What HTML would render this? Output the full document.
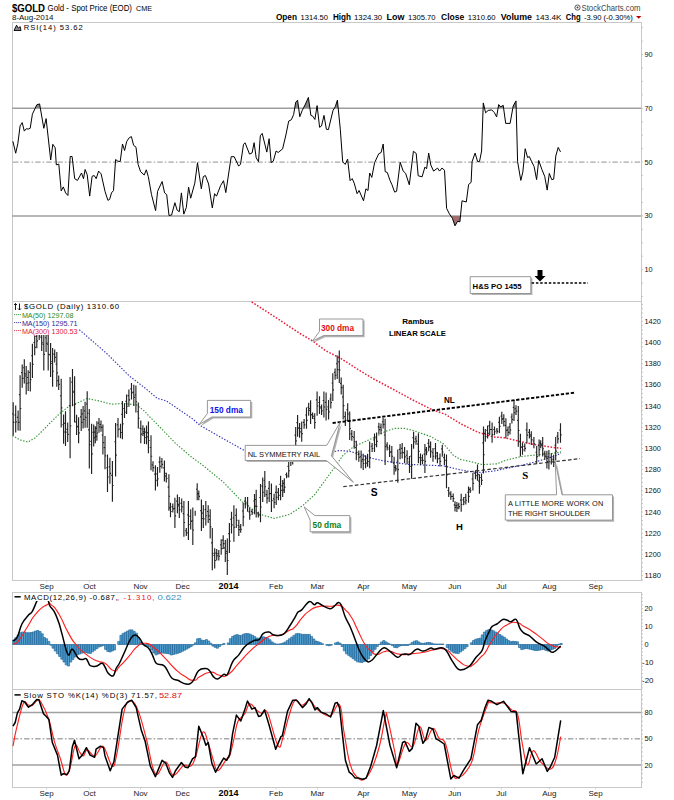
<!DOCTYPE html>
<html><head><meta charset="utf-8"><style>
html,body{margin:0;padding:0;background:#fff;}
svg{display:block;font-family:"Liberation Sans",sans-serif;}
</style></head><body>
<svg width="674" height="800" viewBox="0 0 674 800">
<rect width="674" height="800" fill="#fff"/>
<rect x="12.5" y="22.5" width="629" height="279" fill="none" stroke="#c8c8c8" stroke-width="1"/>
<rect x="12.5" y="301.5" width="629" height="279" fill="none" stroke="#c8c8c8" stroke-width="1"/>
<rect x="12.5" y="592.5" width="629" height="97" fill="none" stroke="#c8c8c8" stroke-width="1"/>
<rect x="12.5" y="689.5" width="629" height="98" fill="none" stroke="#c8c8c8" stroke-width="1"/>
<line x1="12" x2="641" y1="108.3" y2="108.3" stroke="#a0a0a0" stroke-width="1.5"/>
<line x1="12" x2="641" y1="215.9" y2="215.9" stroke="#a0a0a0" stroke-width="1.5"/>
<line x1="13" x2="641" y1="162.1" y2="162.1" stroke="#a8a8a8" stroke-width="1.4" stroke-dasharray="5.4,2.1,1.5,2.1"/>
<text x="644.5" y="57.0" font-size="7.6" textLength="8.2" lengthAdjust="spacingAndGlyphs" fill="#111">90</text>
<text x="644.5" y="110.8" font-size="7.6" textLength="8.2" lengthAdjust="spacingAndGlyphs" fill="#111">70</text>
<text x="644.5" y="164.6" font-size="7.6" textLength="8.2" lengthAdjust="spacingAndGlyphs" fill="#111">50</text>
<text x="644.5" y="218.4" font-size="7.6" textLength="8.2" lengthAdjust="spacingAndGlyphs" fill="#111">30</text>
<text x="644.5" y="272.2" font-size="7.6" textLength="8.2" lengthAdjust="spacingAndGlyphs" fill="#111">10</text>
<text x="644.5" y="578.1" font-size="7.6" textLength="16.4" lengthAdjust="spacingAndGlyphs" fill="#111">1180</text>
<text x="644.5" y="556.9" font-size="7.6" textLength="16.4" lengthAdjust="spacingAndGlyphs" fill="#111">1200</text>
<text x="644.5" y="535.7" font-size="7.6" textLength="16.4" lengthAdjust="spacingAndGlyphs" fill="#111">1220</text>
<text x="644.5" y="514.5" font-size="7.6" textLength="16.4" lengthAdjust="spacingAndGlyphs" fill="#111">1240</text>
<text x="644.5" y="493.3" font-size="7.6" textLength="16.4" lengthAdjust="spacingAndGlyphs" fill="#111">1260</text>
<text x="644.5" y="472.2" font-size="7.6" textLength="16.4" lengthAdjust="spacingAndGlyphs" fill="#111">1280</text>
<text x="644.5" y="451.0" font-size="7.6" textLength="16.4" lengthAdjust="spacingAndGlyphs" fill="#111">1300</text>
<text x="644.5" y="429.8" font-size="7.6" textLength="16.4" lengthAdjust="spacingAndGlyphs" fill="#111">1320</text>
<text x="644.5" y="408.6" font-size="7.6" textLength="16.4" lengthAdjust="spacingAndGlyphs" fill="#111">1340</text>
<text x="644.5" y="387.4" font-size="7.6" textLength="16.4" lengthAdjust="spacingAndGlyphs" fill="#111">1360</text>
<text x="644.5" y="366.3" font-size="7.6" textLength="16.4" lengthAdjust="spacingAndGlyphs" fill="#111">1380</text>
<text x="644.5" y="345.1" font-size="7.6" textLength="16.4" lengthAdjust="spacingAndGlyphs" fill="#111">1400</text>
<text x="644.5" y="323.9" font-size="7.6" textLength="16.4" lengthAdjust="spacingAndGlyphs" fill="#111">1420</text>
<text x="644.5" y="611.2" font-size="7.6" textLength="8.2" lengthAdjust="spacingAndGlyphs" fill="#111">20</text>
<text x="644.5" y="629.2" font-size="7.6" textLength="8.2" lengthAdjust="spacingAndGlyphs" fill="#111">10</text>
<text x="644.5" y="647.2" font-size="7.6" textLength="4.1" lengthAdjust="spacingAndGlyphs" fill="#111">0</text>
<text x="642" y="665.2" font-size="7.6" textLength="11.5" lengthAdjust="spacingAndGlyphs" fill="#111">-10</text>
<text x="642" y="683.2" font-size="7.6" textLength="11.5" lengthAdjust="spacingAndGlyphs" fill="#111">-20</text>
<line x1="12" x2="641" y1="712.6" y2="712.6" stroke="#a0a0a0" stroke-width="1.5"/>
<line x1="12" x2="641" y1="765.0" y2="765.0" stroke="#a0a0a0" stroke-width="1.5"/>
<line x1="13" x2="641" y1="738.8" y2="738.8" stroke="#a8a8a8" stroke-width="1.4" stroke-dasharray="5.4,2.1,1.5,2.1"/>
<text x="644.5" y="715.1" font-size="7.6" textLength="8.2" lengthAdjust="spacingAndGlyphs" fill="#111">80</text>
<text x="644.5" y="741.3" font-size="7.6" textLength="8.2" lengthAdjust="spacingAndGlyphs" fill="#111">50</text>
<text x="644.5" y="767.5" font-size="7.6" textLength="8.2" lengthAdjust="spacingAndGlyphs" fill="#111">20</text>
<path d="M641.5 296.6h1.5 M641.5 283.1h1.5 M641.5 269.7h1.5 M641.5 256.2h1.5 M641.5 242.8h1.5 M641.5 229.3h1.5 M641.5 215.9h1.5 M641.5 202.5h1.5 M641.5 189.0h1.5 M641.5 175.6h1.5 M641.5 162.1h1.5 M641.5 148.7h1.5 M641.5 135.2h1.5 M641.5 121.8h1.5 M641.5 108.3h1.5 M641.5 94.9h1.5 M641.5 81.4h1.5 M641.5 68.0h1.5 M641.5 54.5h1.5 M641.5 41.1h1.5 M641.5 27.6h1.5 M641.5 579.8h1.5 M641.5 575.6h1.5 M641.5 571.3h1.5 M641.5 567.1h1.5 M641.5 562.9h1.5 M641.5 558.6h1.5 M641.5 554.4h1.5 M641.5 550.1h1.5 M641.5 545.9h1.5 M641.5 541.7h1.5 M641.5 537.4h1.5 M641.5 533.2h1.5 M641.5 529.0h1.5 M641.5 524.7h1.5 M641.5 520.5h1.5 M641.5 516.3h1.5 M641.5 512.0h1.5 M641.5 507.8h1.5 M641.5 503.5h1.5 M641.5 499.3h1.5 M641.5 495.1h1.5 M641.5 490.8h1.5 M641.5 486.6h1.5 M641.5 482.4h1.5 M641.5 478.1h1.5 M641.5 473.9h1.5 M641.5 469.7h1.5 M641.5 465.4h1.5 M641.5 461.2h1.5 M641.5 457.0h1.5 M641.5 452.7h1.5 M641.5 448.5h1.5 M641.5 444.2h1.5 M641.5 440.0h1.5 M641.5 435.8h1.5 M641.5 431.5h1.5 M641.5 427.3h1.5 M641.5 423.1h1.5 M641.5 418.8h1.5 M641.5 414.6h1.5 M641.5 410.4h1.5 M641.5 406.1h1.5 M641.5 401.9h1.5 M641.5 397.6h1.5 M641.5 393.4h1.5 M641.5 389.2h1.5 M641.5 384.9h1.5 M641.5 380.7h1.5 M641.5 376.5h1.5 M641.5 372.2h1.5 M641.5 368.0h1.5 M641.5 363.8h1.5 M641.5 359.5h1.5 M641.5 355.3h1.5 M641.5 351.1h1.5 M641.5 346.8h1.5 M641.5 342.6h1.5 M641.5 338.3h1.5 M641.5 334.1h1.5 M641.5 329.9h1.5 M641.5 325.6h1.5 M641.5 321.4h1.5 M641.5 317.2h1.5 M641.5 312.9h1.5 M641.5 308.7h1.5 M641.5 304.5h1.5 M641.5 687.9h1.5 M641.5 684.3h1.5 M641.5 680.7h1.5 M641.5 677.1h1.5 M641.5 673.5h1.5 M641.5 669.9h1.5 M641.5 666.3h1.5 M641.5 662.7h1.5 M641.5 659.1h1.5 M641.5 655.5h1.5 M641.5 651.9h1.5 M641.5 648.3h1.5 M641.5 644.7h1.5 M641.5 641.1h1.5 M641.5 637.5h1.5 M641.5 633.9h1.5 M641.5 630.3h1.5 M641.5 626.7h1.5 M641.5 623.1h1.5 M641.5 619.5h1.5 M641.5 615.9h1.5 M641.5 612.3h1.5 M641.5 608.7h1.5 M641.5 605.1h1.5 M641.5 601.5h1.5 M641.5 597.9h1.5 M641.5 594.3h1.5 M641.5 782.5h1.5 M641.5 778.1h1.5 M641.5 773.7h1.5 M641.5 769.4h1.5 M641.5 765.0h1.5 M641.5 760.6h1.5 M641.5 756.3h1.5 M641.5 751.9h1.5 M641.5 747.5h1.5 M641.5 743.2h1.5 M641.5 738.8h1.5 M641.5 734.4h1.5 M641.5 730.1h1.5 M641.5 725.7h1.5 M641.5 721.3h1.5 M641.5 717.0h1.5 M641.5 712.6h1.5 M641.5 708.2h1.5 M641.5 703.9h1.5 M641.5 699.5h1.5 M641.5 695.1h1.5" stroke="#bbb" stroke-width="0.8"/>
<path d="M46.5 580.5v2 M46.5 787.5v2 M89.5 580.5v2 M89.5 787.5v2 M140.5 580.5v2 M140.5 787.5v2 M182.6 580.5v2 M182.6 787.5v2 M228.5 580.5v2 M228.5 787.5v2 M276 580.5v2 M276 787.5v2 M317.5 580.5v2 M317.5 787.5v2 M363.5 580.5v2 M363.5 787.5v2 M409.4 580.5v2 M409.4 787.5v2 M454.8 580.5v2 M454.8 787.5v2 M501.4 580.5v2 M501.4 787.5v2 M549.4 580.5v2 M549.4 787.5v2 M595.5 580.5v2 M595.5 787.5v2" stroke="#ccc" stroke-width="0.8"/>
<text x="46.5" y="589" font-size="8" fill="#222" font-weight="normal" text-anchor="middle" >Sep</text>
<text x="89.5" y="589" font-size="8" fill="#222" font-weight="normal" text-anchor="middle" >Oct</text>
<text x="140.5" y="589" font-size="8" fill="#222" font-weight="normal" text-anchor="middle" >Nov</text>
<text x="182.6" y="589" font-size="8" fill="#222" font-weight="normal" text-anchor="middle" >Dec</text>
<text x="228.5" y="589" font-size="9" fill="#000" font-weight="bold" text-anchor="middle" >2014</text>
<text x="276" y="589" font-size="8" fill="#222" font-weight="normal" text-anchor="middle" >Feb</text>
<text x="317.5" y="589" font-size="8" fill="#222" font-weight="normal" text-anchor="middle" >Mar</text>
<text x="363.5" y="589" font-size="8" fill="#222" font-weight="normal" text-anchor="middle" >Apr</text>
<text x="409.4" y="589" font-size="8" fill="#222" font-weight="normal" text-anchor="middle" >May</text>
<text x="454.8" y="589" font-size="8" fill="#222" font-weight="normal" text-anchor="middle" >Jun</text>
<text x="501.4" y="589" font-size="8" fill="#222" font-weight="normal" text-anchor="middle" >Jul</text>
<text x="549.4" y="589" font-size="8" fill="#222" font-weight="normal" text-anchor="middle" >Aug</text>
<text x="595.5" y="589" font-size="8" fill="#222" font-weight="normal" text-anchor="middle" >Sep</text>
<text x="46.5" y="796" font-size="8" fill="#222" font-weight="normal" text-anchor="middle" >Sep</text>
<text x="89.5" y="796" font-size="8" fill="#222" font-weight="normal" text-anchor="middle" >Oct</text>
<text x="140.5" y="796" font-size="8" fill="#222" font-weight="normal" text-anchor="middle" >Nov</text>
<text x="182.6" y="796" font-size="8" fill="#222" font-weight="normal" text-anchor="middle" >Dec</text>
<text x="228.5" y="796" font-size="9" fill="#000" font-weight="bold" text-anchor="middle" >2014</text>
<text x="276" y="796" font-size="8" fill="#222" font-weight="normal" text-anchor="middle" >Feb</text>
<text x="317.5" y="796" font-size="8" fill="#222" font-weight="normal" text-anchor="middle" >Mar</text>
<text x="363.5" y="796" font-size="8" fill="#222" font-weight="normal" text-anchor="middle" >Apr</text>
<text x="409.4" y="796" font-size="8" fill="#222" font-weight="normal" text-anchor="middle" >May</text>
<text x="454.8" y="796" font-size="8" fill="#222" font-weight="normal" text-anchor="middle" >Jun</text>
<text x="501.4" y="796" font-size="8" fill="#222" font-weight="normal" text-anchor="middle" >Jul</text>
<text x="549.4" y="796" font-size="8" fill="#222" font-weight="normal" text-anchor="middle" >Aug</text>
<text x="595.5" y="796" font-size="8" fill="#222" font-weight="normal" text-anchor="middle" >Sep</text>
<defs><clipPath id="c70"><rect x="0" y="0" width="674" height="108.3"/></clipPath><clipPath id="c30"><rect x="0" y="215.9" width="674" height="80"/></clipPath></defs>
<polygon points="12.9,108.3 12.9,141.3 15.7,153.2 17.8,143.8 20.1,125.9 22.2,122.6 24.3,131.1 26.3,128.7 28.2,129.1 30.2,128.3 32.4,114.2 36.8,104.8 39.6,103.9 43.8,128.3 46.1,118.6 50.7,160.0 52.8,144.3 55.2,147.8 56.3,164.9 58.8,164.1 61.2,190.9 63.3,186.9 65.6,192.9 67.9,195.5 70.2,156.5 72.1,156.5 74.7,178.7 77.5,180.4 81.5,173.0 83.5,178.7 85.1,169.5 87.2,174.7 89.7,196.1 92.1,176.3 94.2,175.5 96.2,178.7 98.6,171.1 101.1,173.9 105.1,191.7 107.9,200.3 109.6,199.5 111.5,192.9 113.5,190.5 115.6,159.5 117.7,161.1 120.2,161.6 122.5,144.0 124.6,150.5 126.7,141.5 129.2,137.8 131.4,136.6 133.6,145.3 136.0,147.2 138.1,164.4 140.6,171.7 144.2,175.0 146.3,169.8 148.3,176.6 151.5,194.6 155.6,210.6 157.6,191.3 162.1,181.5 164.6,192.9 166.7,194.6 169.0,215.5 171.6,215.0 174.9,202.7 177.1,210.1 179.3,211.7 181.4,192.9 183.8,214.1 186.3,207.6 188.6,187.2 190.7,198.2 194.8,183.1 197.5,162.7 201.3,188.8 203.3,176.6 205.4,175.5 208.6,184.0 212.3,207.9 214.6,193.7 216.5,196.2 220.6,185.6 223.5,180.7 225.8,192.6 231.2,156.7 234.2,156.7 238.6,166.0 240.5,164.4 243.5,144.3 245.1,142.8 249.5,154.1 252.1,152.9 254.1,142.7 256.2,157.8 258.5,161.6 260.3,135.8 262.2,133.4 266.8,152.1 269.1,138.7 271.2,162.7 273.3,161.1 276.1,151.0 278.2,152.5 282.6,148.9 285.9,135.0 288.7,121.1 291.3,119.8 293.6,114.6 295.7,102.3 297.6,100.2 299.8,116.7 302.2,110.5 305.5,104.0 308.4,97.4 310.9,115.4 312.8,116.2 314.9,119.5 317.1,105.6 319.6,127.3 321.5,126.0 324.0,115.4 326.4,129.3 328.4,129.6 333.0,110.5 335.4,106.4 337.4,100.2 340.3,129.3 342.7,161.9 345.2,164.4 347.6,159.1 350.1,180.7 352.2,178.6 354.2,183.1 357.1,193.7 359.1,190.5 363.5,200.8 365.9,188.8 368.0,190.5 369.7,173.0 371.8,177.4 374.6,162.7 378.7,153.8 381.1,152.5 383.2,144.0 385.2,171.7 387.3,172.5 390.1,180.7 392.0,184.8 394.6,192.1 396.6,191.3 400.2,162.2 403.1,170.9 405.6,173.3 409.3,184.8 413.4,151.3 416.2,153.4 418.2,175.8 422.1,176.8 424.9,167.1 426.6,168.8 428.7,153.1 430.8,165.0 433.6,171.1 437.5,168.1 439.6,171.1 441.9,168.1 444.5,170.2 446.6,208.3 449.4,213.9 452.4,218.3 455.0,225.8 457.6,221.3 459.9,221.8 462.0,200.8 466.3,202.0 468.6,184.5 471.1,182.4 472.1,161.5 475.1,153.1 477.7,161.8 479.5,161.5 481.6,151.0 483.3,102.9 485.6,112.8 488.2,110.4 491.7,109.9 494.3,112.5 496.6,116.9 498.7,104.6 500.8,106.9 503.2,105.3 505.7,123.4 510.1,123.4 513.2,106.0 516.0,100.9 517.6,161.6 520.8,180.4 522.8,172.2 525.2,148.7 527.6,157.6 529.3,156.5 531.7,161.7 534.1,166.5 536.6,179.6 538.7,160.4 542.0,169.8 544.7,176.3 547.2,190.1 549.3,173.4 551.7,179.6 553.7,179.2 555.8,156.0 558.2,147.4 560.5,151.9 560.5,108.3" fill="#888" clip-path="url(#c70)"/>
<polygon points="12.9,215.9 12.9,141.3 15.7,153.2 17.8,143.8 20.1,125.9 22.2,122.6 24.3,131.1 26.3,128.7 28.2,129.1 30.2,128.3 32.4,114.2 36.8,104.8 39.6,103.9 43.8,128.3 46.1,118.6 50.7,160.0 52.8,144.3 55.2,147.8 56.3,164.9 58.8,164.1 61.2,190.9 63.3,186.9 65.6,192.9 67.9,195.5 70.2,156.5 72.1,156.5 74.7,178.7 77.5,180.4 81.5,173.0 83.5,178.7 85.1,169.5 87.2,174.7 89.7,196.1 92.1,176.3 94.2,175.5 96.2,178.7 98.6,171.1 101.1,173.9 105.1,191.7 107.9,200.3 109.6,199.5 111.5,192.9 113.5,190.5 115.6,159.5 117.7,161.1 120.2,161.6 122.5,144.0 124.6,150.5 126.7,141.5 129.2,137.8 131.4,136.6 133.6,145.3 136.0,147.2 138.1,164.4 140.6,171.7 144.2,175.0 146.3,169.8 148.3,176.6 151.5,194.6 155.6,210.6 157.6,191.3 162.1,181.5 164.6,192.9 166.7,194.6 169.0,215.5 171.6,215.0 174.9,202.7 177.1,210.1 179.3,211.7 181.4,192.9 183.8,214.1 186.3,207.6 188.6,187.2 190.7,198.2 194.8,183.1 197.5,162.7 201.3,188.8 203.3,176.6 205.4,175.5 208.6,184.0 212.3,207.9 214.6,193.7 216.5,196.2 220.6,185.6 223.5,180.7 225.8,192.6 231.2,156.7 234.2,156.7 238.6,166.0 240.5,164.4 243.5,144.3 245.1,142.8 249.5,154.1 252.1,152.9 254.1,142.7 256.2,157.8 258.5,161.6 260.3,135.8 262.2,133.4 266.8,152.1 269.1,138.7 271.2,162.7 273.3,161.1 276.1,151.0 278.2,152.5 282.6,148.9 285.9,135.0 288.7,121.1 291.3,119.8 293.6,114.6 295.7,102.3 297.6,100.2 299.8,116.7 302.2,110.5 305.5,104.0 308.4,97.4 310.9,115.4 312.8,116.2 314.9,119.5 317.1,105.6 319.6,127.3 321.5,126.0 324.0,115.4 326.4,129.3 328.4,129.6 333.0,110.5 335.4,106.4 337.4,100.2 340.3,129.3 342.7,161.9 345.2,164.4 347.6,159.1 350.1,180.7 352.2,178.6 354.2,183.1 357.1,193.7 359.1,190.5 363.5,200.8 365.9,188.8 368.0,190.5 369.7,173.0 371.8,177.4 374.6,162.7 378.7,153.8 381.1,152.5 383.2,144.0 385.2,171.7 387.3,172.5 390.1,180.7 392.0,184.8 394.6,192.1 396.6,191.3 400.2,162.2 403.1,170.9 405.6,173.3 409.3,184.8 413.4,151.3 416.2,153.4 418.2,175.8 422.1,176.8 424.9,167.1 426.6,168.8 428.7,153.1 430.8,165.0 433.6,171.1 437.5,168.1 439.6,171.1 441.9,168.1 444.5,170.2 446.6,208.3 449.4,213.9 452.4,218.3 455.0,225.8 457.6,221.3 459.9,221.8 462.0,200.8 466.3,202.0 468.6,184.5 471.1,182.4 472.1,161.5 475.1,153.1 477.7,161.8 479.5,161.5 481.6,151.0 483.3,102.9 485.6,112.8 488.2,110.4 491.7,109.9 494.3,112.5 496.6,116.9 498.7,104.6 500.8,106.9 503.2,105.3 505.7,123.4 510.1,123.4 513.2,106.0 516.0,100.9 517.6,161.6 520.8,180.4 522.8,172.2 525.2,148.7 527.6,157.6 529.3,156.5 531.7,161.7 534.1,166.5 536.6,179.6 538.7,160.4 542.0,169.8 544.7,176.3 547.2,190.1 549.3,173.4 551.7,179.6 553.7,179.2 555.8,156.0 558.2,147.4 560.5,151.9 560.5,215.9" fill="#a07070" clip-path="url(#c30)"/>
<polyline points="12.9,141.3 15.7,153.2 17.8,143.8 20.1,125.9 22.2,122.6 24.3,131.1 26.3,128.7 28.2,129.1 30.2,128.3 32.4,114.2 36.8,104.8 39.6,103.9 43.8,128.3 46.1,118.6 50.7,160.0 52.8,144.3 55.2,147.8 56.3,164.9 58.8,164.1 61.2,190.9 63.3,186.9 65.6,192.9 67.9,195.5 70.2,156.5 72.1,156.5 74.7,178.7 77.5,180.4 81.5,173.0 83.5,178.7 85.1,169.5 87.2,174.7 89.7,196.1 92.1,176.3 94.2,175.5 96.2,178.7 98.6,171.1 101.1,173.9 105.1,191.7 107.9,200.3 109.6,199.5 111.5,192.9 113.5,190.5 115.6,159.5 117.7,161.1 120.2,161.6 122.5,144.0 124.6,150.5 126.7,141.5 129.2,137.8 131.4,136.6 133.6,145.3 136.0,147.2 138.1,164.4 140.6,171.7 144.2,175.0 146.3,169.8 148.3,176.6 151.5,194.6 155.6,210.6 157.6,191.3 162.1,181.5 164.6,192.9 166.7,194.6 169.0,215.5 171.6,215.0 174.9,202.7 177.1,210.1 179.3,211.7 181.4,192.9 183.8,214.1 186.3,207.6 188.6,187.2 190.7,198.2 194.8,183.1 197.5,162.7 201.3,188.8 203.3,176.6 205.4,175.5 208.6,184.0 212.3,207.9 214.6,193.7 216.5,196.2 220.6,185.6 223.5,180.7 225.8,192.6 231.2,156.7 234.2,156.7 238.6,166.0 240.5,164.4 243.5,144.3 245.1,142.8 249.5,154.1 252.1,152.9 254.1,142.7 256.2,157.8 258.5,161.6 260.3,135.8 262.2,133.4 266.8,152.1 269.1,138.7 271.2,162.7 273.3,161.1 276.1,151.0 278.2,152.5 282.6,148.9 285.9,135.0 288.7,121.1 291.3,119.8 293.6,114.6 295.7,102.3 297.6,100.2 299.8,116.7 302.2,110.5 305.5,104.0 308.4,97.4 310.9,115.4 312.8,116.2 314.9,119.5 317.1,105.6 319.6,127.3 321.5,126.0 324.0,115.4 326.4,129.3 328.4,129.6 333.0,110.5 335.4,106.4 337.4,100.2 340.3,129.3 342.7,161.9 345.2,164.4 347.6,159.1 350.1,180.7 352.2,178.6 354.2,183.1 357.1,193.7 359.1,190.5 363.5,200.8 365.9,188.8 368.0,190.5 369.7,173.0 371.8,177.4 374.6,162.7 378.7,153.8 381.1,152.5 383.2,144.0 385.2,171.7 387.3,172.5 390.1,180.7 392.0,184.8 394.6,192.1 396.6,191.3 400.2,162.2 403.1,170.9 405.6,173.3 409.3,184.8 413.4,151.3 416.2,153.4 418.2,175.8 422.1,176.8 424.9,167.1 426.6,168.8 428.7,153.1 430.8,165.0 433.6,171.1 437.5,168.1 439.6,171.1 441.9,168.1 444.5,170.2 446.6,208.3 449.4,213.9 452.4,218.3 455.0,225.8 457.6,221.3 459.9,221.8 462.0,200.8 466.3,202.0 468.6,184.5 471.1,182.4 472.1,161.5 475.1,153.1 477.7,161.8 479.5,161.5 481.6,151.0 483.3,102.9 485.6,112.8 488.2,110.4 491.7,109.9 494.3,112.5 496.6,116.9 498.7,104.6 500.8,106.9 503.2,105.3 505.7,123.4 510.1,123.4 513.2,106.0 516.0,100.9 517.6,161.6 520.8,180.4 522.8,172.2 525.2,148.7 527.6,157.6 529.3,156.5 531.7,161.7 534.1,166.5 536.6,179.6 538.7,160.4 542.0,169.8 544.7,176.3 547.2,190.1 549.3,173.4 551.7,179.6 553.7,179.2 555.8,156.0 558.2,147.4 560.5,151.9" fill="none" stroke="#000" stroke-width="1" stroke-linejoin="round"/>
<polyline points="251.7,301.9 277.7,318.8 300.0,333.5 313.0,341.2 325.0,350.3 341.2,358.7 357.5,369.2 373.7,379.0 395.0,390.3 412.7,400.0 432.2,409.7 445.0,414.2 461.2,424.0 477.5,432.1 493.7,437.0 505.0,437.8 521.2,441.8 537.5,445.1 553.7,447.5 561.0,448.3" fill="none" stroke="#e8203a" stroke-width="1.5" stroke-dasharray="1.6,1.6"/>
<polyline points="79.3,329.7 107.1,353.8 129.3,376.0 145.0,388.0 157.2,398.3 166.4,400.9 192.4,418.7 199.4,424.9 210.0,431.2 244.8,450.8 270.0,455.0 300.0,455.0 332.1,452.0 339.2,450.6 348.7,451.1 358.2,453.8 370.1,458.0 384.3,461.0 396.2,462.7 406.2,464.2 422.5,465.0 443.6,465.8 460.0,469.8 477.5,472.7 493.7,471.1 505.0,468.6 521.2,465.4 537.5,461.3 553.7,456.5 561.0,453.2" fill="none" stroke="#3434b4" stroke-width="1.15" stroke-dasharray="1.4,1.6"/>
<polyline points="12.4,435.6 20.0,440.0 27.9,442.0 35.0,438.0 42.5,430.7 50.0,423.0 58.7,414.5 68.0,407.0 79.0,402.3 87.2,398.5 99.4,401.0 111.5,404.2 123.7,403.4 136.7,405.0 145.0,411.5 148.9,416.0 160.0,427.2 175.7,443.5 190.0,455.8 205.0,467.0 223.7,482.5 243.2,502.8 259.4,514.2 274.3,518.4 289.9,514.3 302.3,506.0 314.8,494.5 326.2,478.8 334.5,467.5 342.8,455.6 353.5,446.7 364.2,442.0 374.9,437.2 385.5,431.3 395.0,428.3 404.5,428.3 414.4,430.9 430.6,436.5 443.6,443.9 453.3,455.2 460.0,459.3 469.4,461.3 482.4,464.6 497.0,463.8 505.0,460.5 521.2,456.5 537.5,454.8 553.7,453.2 561.0,451.9" fill="none" stroke="#349434" stroke-width="1.15" stroke-dasharray="1.4,1.6"/>
<path d="M13.2 402.3V435.6 M12.0 414.0h1.2M13.2 422.3h1.2 M15.7 405.5V432.6 M14.5 415.0h1.2M15.7 421.8h1.2 M18.1 410.4V430.4 M16.9 417.4h1.2M18.1 422.4h1.2 M20.1 375.2V430.7 M18.9 394.6h1.2M20.1 408.5h1.2 M22.2 364.4V387.7 M21.0 372.6h1.2M22.2 378.4h1.2 M24.3 359.2V383.6 M23.1 367.7h1.2M24.3 373.8h1.2 M26.2 366.0V394.6 M25.0 376.0h1.2M26.2 383.2h1.2 M28.2 370.3V390.9 M27.0 377.5h1.2M28.2 382.7h1.2 M30.3 362.2V391.4 M29.1 372.4h1.2M30.3 379.7h1.2 M32.4 343.8V377.9 M31.2 355.7h1.2M32.4 364.3h1.2 M34.7 335.7V355.2 M33.5 342.5h1.2M34.7 347.4h1.2 M36.8 330.0V348.2 M35.6 336.4h1.2M36.8 340.9h1.2 M39.2 330.0V340.0 M38.0 333.5h1.2M39.2 336.0h1.2 M41.7 330.0V351.1 M40.5 337.4h1.2M41.7 342.7h1.2 M43.8 330.0V370.6 M42.6 344.2h1.2M43.8 354.4h1.2 M46.1 330.0V351.9 M44.9 337.7h1.2M46.1 343.1h1.2 M48.2 330.0V370.6 M47.0 344.2h1.2M48.2 354.4h1.2 M50.6 343.0V377.1 M49.4 354.9h1.2M50.6 363.5h1.2 M52.6 347.9V386.8 M51.4 361.5h1.2M52.6 371.2h1.2 M54.7 349.5V362.5 M53.5 354.1h1.2M54.7 357.3h1.2 M56.8 351.9V386.8 M55.6 364.1h1.2M56.8 372.8h1.2 M58.7 375.5V390.1 M57.5 380.6h1.2M58.7 384.3h1.2 M61.2 378.7V427.4 M60.0 395.7h1.2M61.2 407.9h1.2 M63.6 414.5V443.7 M62.4 424.7h1.2M63.6 432.0h1.2 M65.5 411.2V446.1 M64.3 423.4h1.2M65.5 432.1h1.2 M67.7 422.6V442.1 M66.5 429.4h1.2M67.7 434.3h1.2 M70.1 377.1V458.3 M68.9 405.5h1.2M70.1 425.8h1.2 M72.5 369.0V406.3 M71.3 382.1h1.2M72.5 391.4h1.2 M74.6 376.3V422.6 M73.4 392.5h1.2M74.6 404.1h1.2 M76.6 414.8V435.1 M75.4 421.9h1.2M76.6 427.0h1.2 M78.6 417.2V443.2 M77.4 426.3h1.2M78.6 432.8h1.2 M81.2 409.1V431.0 M80.0 416.8h1.2M81.2 422.2h1.2 M83.1 405.9V428.6 M81.9 413.8h1.2M83.1 419.5h1.2 M85.1 401.8V427.8 M83.9 410.9h1.2M85.1 417.4h1.2 M87.2 391.2V427.8 M86.0 404.0h1.2M87.2 413.2h1.2 M89.3 409.1V468.4 M88.1 429.9h1.2M89.3 444.7h1.2 M91.6 423.7V474.1 M90.4 441.3h1.2M91.6 453.9h1.2 M93.7 424.5V446.5 M92.5 432.2h1.2M93.7 437.7h1.2 M95.3 426.2V443.2 M94.1 432.1h1.2M95.3 436.4h1.2 M96.9 421.3V440.8 M95.7 428.1h1.2M96.9 433.0h1.2 M99.0 418.0V432.7 M97.8 423.1h1.2M99.0 426.8h1.2 M101.0 420.5V431.8 M99.8 424.5h1.2M101.0 427.3h1.2 M102.9 424.5V454.6 M101.7 435.0h1.2M102.9 442.6h1.2 M105.0 435.9V469.2 M103.8 447.6h1.2M105.0 455.9h1.2 M107.5 454.6V491.9 M106.3 467.7h1.2M107.5 477.0h1.2 M109.9 457.8V483.8 M108.7 466.9h1.2M109.9 473.4h1.2 M112.4 461.1V501.7 M111.2 475.3h1.2M112.4 485.5h1.2 M115.6 422.9V476.5 M114.4 441.7h1.2M115.6 455.1h1.2 M118.0 418.0V437.5 M116.8 424.8h1.2M118.0 429.7h1.2 M120.5 423.7V438.3 M119.3 428.8h1.2M120.5 432.5h1.2 M122.4 401.0V439.2 M121.2 414.4h1.2M122.4 423.9h1.2 M124.5 403.4V418.0 M123.3 408.5h1.2M124.5 412.2h1.2 M126.6 394.5V414.0 M125.4 401.3h1.2M126.6 406.2h1.2 M128.9 389.6V406.7 M127.7 395.6h1.2M128.9 399.9h1.2 M131.5 383.1V399.4 M130.3 388.8h1.2M131.5 392.9h1.2 M133.8 384.7V405.9 M132.6 392.1h1.2M133.8 397.4h1.2 M135.9 385.6V412.4 M134.7 395.0h1.2M135.9 401.7h1.2 M138.3 402.6V428.6 M137.1 411.7h1.2M138.3 418.2h1.2 M140.8 420.5V443.2 M139.6 428.4h1.2M140.8 434.1h1.2 M142.9 425.3V435.9 M141.7 429.0h1.2M142.9 431.7h1.2 M144.5 427.8V444.0 M143.3 433.5h1.2M144.5 437.5h1.2 M146.5 425.6V444.2 M145.3 432.1h1.2M146.5 436.8h1.2 M148.4 421.5V453.2 M147.2 432.6h1.2M148.4 440.5h1.2 M151.0 435.3V470.2 M149.8 447.5h1.2M151.0 456.2h1.2 M153.0 461.3V471.8 M151.8 465.0h1.2M153.0 467.6h1.2 M155.4 465.3V490.5 M154.2 474.1h1.2M155.4 480.4h1.2 M157.5 467.0V486.5 M156.3 473.8h1.2M157.5 478.7h1.2 M159.8 456.4V472.7 M158.6 462.1h1.2M159.8 466.2h1.2 M161.9 458.0V468.6 M160.7 461.7h1.2M161.9 464.4h1.2 M164.4 460.5V481.6 M163.2 467.9h1.2M164.4 473.2h1.2 M166.3 472.7V482.4 M165.1 476.1h1.2M166.3 478.5h1.2 M168.9 474.3V510.8 M167.7 487.1h1.2M168.9 496.2h1.2 M170.5 502.7V517.3 M169.3 507.8h1.2M170.5 511.5h1.2 M172.8 503.5V512.4 M171.6 506.6h1.2M172.8 508.8h1.2 M174.9 497.8V527.9 M173.7 508.3h1.2M174.9 515.9h1.2 M177.4 494.6V513.3 M176.2 501.1h1.2M177.4 505.8h1.2 M179.3 497.0V518.1 M178.1 504.4h1.2M179.3 509.7h1.2 M181.7 498.6V512.4 M180.5 503.4h1.2M181.7 506.9h1.2 M183.9 501.1V536.8 M182.7 513.6h1.2M183.9 522.5h1.2 M186.3 527.9V536.0 M185.1 530.7h1.2M186.3 532.8h1.2 M188.4 501.1V540.1 M187.2 514.8h1.2M188.4 524.5h1.2 M190.7 509.2V529.5 M189.5 516.3h1.2M190.7 521.4h1.2 M192.8 507.6V545.0 M191.6 520.7h1.2M192.8 530.0h1.2 M195.2 510.8V515.7 M197.2 483.2V500.3 M196.0 489.2h1.2M197.2 493.5h1.2 M198.8 490.5V500.3 M197.6 493.9h1.2M198.8 496.4h1.2 M201.4 499.5V531.1 M200.2 510.6h1.2M201.4 518.5h1.2 M203.3 505.1V527.9 M202.1 513.1h1.2M203.3 518.8h1.2 M205.8 501.1V525.4 M204.6 509.6h1.2M205.8 515.7h1.2 M208.2 505.2V523.1 M207.0 511.5h1.2M208.2 515.9h1.2 M210.2 509.3V538.5 M209.0 519.5h1.2M210.2 526.8h1.2 M212.3 528.0V570.2 M211.1 542.8h1.2M212.3 553.3h1.2 M214.7 548.3V568.6 M213.5 555.4h1.2M214.7 560.5h1.2 M216.7 549.1V560.4 M215.5 553.1h1.2M216.7 555.9h1.2 M218.8 549.9V560.4 M217.6 553.6h1.2M218.8 556.2h1.2 M221.2 539.3V554.8 M220.0 544.7h1.2M221.2 548.6h1.2 M223.2 535.3V549.1 M222.0 540.1h1.2M223.2 543.6h1.2 M225.3 540.1V562.1 M224.1 547.8h1.2M225.3 553.3h1.2 M227.3 538.5V575.1 M226.1 551.3h1.2M227.3 560.5h1.2 M229.4 523.1V553.1 M228.2 533.6h1.2M229.4 541.1h1.2 M231.5 511.7V533.6 M230.3 519.4h1.2M231.5 524.8h1.2 M233.9 505.2V541.8 M232.7 518.0h1.2M233.9 527.2h1.2 M236.3 508.5V528.0 M235.1 515.3h1.2M236.3 520.2h1.2 M238.8 519.8V536.1 M237.6 525.5h1.2M238.8 529.6h1.2 M240.7 523.9V532.8 M239.5 527.0h1.2M240.7 529.2h1.2 M243.2 502.8V526.3 M242.0 511.0h1.2M243.2 516.9h1.2 M245.3 497.1V508.5 M244.1 501.1h1.2M245.3 503.9h1.2 M247.6 497.1V511.7 M246.4 502.2h1.2M247.6 505.9h1.2 M249.7 507.7V519.8 M248.5 511.9h1.2M249.7 515.0h1.2 M252.1 509.3V515.0 M250.9 511.3h1.2M252.1 512.7h1.2 M254.5 493.9V514.2 M253.3 501.0h1.2M254.5 506.1h1.2 M256.2 489.8V517.4 M255.0 499.5h1.2M256.2 506.4h1.2 M258.3 511.7V517.4 M257.1 513.7h1.2M258.3 515.1h1.2 M260.5 484.1V522.3 M259.3 497.5h1.2M260.5 507.0h1.2 M262.7 477.6V502.0 M261.5 486.1h1.2M262.7 492.2h1.2 M264.8 471.1V497.1 M263.6 480.2h1.2M264.8 486.7h1.2 M267.0 489.8V503.6 M265.8 494.6h1.2M267.0 498.1h1.2 M269.2 480.9V502.0 M268.0 488.3h1.2M269.2 493.6h1.2 M271.4 483.5V512.0 M270.2 493.5h1.2M271.4 500.6h1.2 M274.1 493.7V508.3 M272.9 498.8h1.2M274.1 502.5h1.2 M276.2 485.6V505.1 M275.0 492.4h1.2M276.2 497.3h1.2 M278.4 488.0V500.2 M277.2 492.3h1.2M278.4 495.3h1.2 M280.6 475.8V500.2 M279.4 484.3h1.2M280.6 490.4h1.2 M282.7 479.9V496.9 M281.5 485.8h1.2M282.7 490.1h1.2 M284.3 478.3V492.9 M283.1 483.4h1.2M284.3 487.1h1.2 M286.6 472.6V478.3 M285.4 474.6h1.2M286.6 476.0h1.2 M288.7 460.4V477.5 M287.5 466.4h1.2M288.7 470.7h1.2 M290.8 455.0V466.1 M289.6 458.9h1.2M290.8 461.7h1.2 M292.7 450.0V464.5 M291.5 455.1h1.2M292.7 458.7h1.2 M295.7 427.1V450.0 M294.5 435.1h1.2M295.7 440.8h1.2 M297.6 414.9V436.8 M296.4 422.6h1.2M297.6 428.0h1.2 M299.6 423.0V437.7 M298.4 428.1h1.2M299.6 431.8h1.2 M301.7 421.4V441.7 M300.5 428.5h1.2M301.7 433.6h1.2 M304.1 419.0V428.7 M302.9 422.4h1.2M304.1 424.8h1.2 M306.5 407.6V428.7 M305.3 415.0h1.2M306.5 420.3h1.2 M308.7 402.7V415.7 M307.5 407.2h1.2M308.7 410.5h1.2 M310.6 400.3V423.9 M309.4 408.6h1.2M310.6 414.5h1.2 M312.6 412.5V419.0 M311.4 414.8h1.2M312.6 416.4h1.2 M314.7 413.3V428.7 M313.5 418.7h1.2M314.7 422.5h1.2 M317.1 391.4V415.7 M315.9 399.9h1.2M317.1 406.0h1.2 M319.5 396.2V414.1 M318.3 402.5h1.2M319.5 406.9h1.2 M321.6 404.4V414.9 M320.4 408.1h1.2M321.6 410.7h1.2 M323.9 391.4V417.4 M322.7 400.5h1.2M323.9 407.0h1.2 M326.1 392.5V420.5 M324.9 402.3h1.2M326.1 409.3h1.2 M328.6 400.1V419.6 M327.4 406.9h1.2M328.6 411.8h1.2 M330.8 393.5V408.5 M329.6 398.8h1.2M330.8 402.5h1.2 M332.8 373.3V400.9 M331.6 383.0h1.2M332.8 389.9h1.2 M335.1 368.4V379.8 M333.9 372.4h1.2M335.1 375.2h1.2 M337.2 355.4V379.0 M336.0 363.7h1.2M337.2 369.6h1.2 M339.3 350.6V383.0 M338.1 361.9h1.2M339.3 370.0h1.2 M341.2 377.4V394.4 M340.0 383.3h1.2M341.2 387.6h1.2 M343.2 384.7V419.6 M342.0 396.9h1.2M343.2 405.6h1.2 M345.3 411.5V426.1 M344.1 416.6h1.2M345.3 420.3h1.2 M347.7 403.3V421.2 M346.5 409.6h1.2M347.7 414.0h1.2 M349.7 411.5V439.9 M348.5 421.4h1.2M349.7 428.5h1.2 M351.8 430.1V440.7 M350.6 433.8h1.2M351.8 436.5h1.2 M354.2 431.0V448.8 M353.0 437.2h1.2M354.2 441.7h1.2 M356.3 440.7V460.2 M355.1 447.5h1.2M356.3 452.4h1.2 M358.8 450.4V461.8 M357.6 454.4h1.2M358.8 457.2h1.2 M361.1 450.4V468.3 M359.9 456.7h1.2M361.1 461.1h1.2 M363.2 453.7V470.0 M362.0 459.4h1.2M363.2 463.5h1.2 M365.6 455.3V468.3 M364.4 459.9h1.2M365.6 463.1h1.2 M367.6 453.7V466.7 M366.4 458.2h1.2M367.6 461.5h1.2 M369.7 441.5V468.3 M368.5 450.9h1.2M369.7 457.6h1.2 M372.1 443.1V452.1 M370.9 446.2h1.2M372.1 448.5h1.2 M374.5 433.4V452.1 M373.3 439.9h1.2M374.5 444.6h1.2 M376.6 432.6V447.2 M375.4 437.7h1.2M376.6 441.4h1.2 M378.9 422.8V434.2 M377.7 426.8h1.2M378.9 429.6h1.2 M381.0 423.6V434.2 M379.8 427.3h1.2M381.0 430.0h1.2 M383.1 418.0V428.5 M381.9 421.7h1.2M383.1 424.3h1.2 M385.1 418.8V465.1 M383.9 435.0h1.2M385.1 446.6h1.2 M387.2 442.3V450.4 M386.0 445.1h1.2M387.2 447.2h1.2 M389.6 444.8V456.9 M388.4 449.0h1.2M389.6 452.1h1.2 M391.8 446.0V463.0 M390.6 451.9h1.2M391.8 456.2h1.2 M394.1 456.8V474.7 M392.9 463.1h1.2M394.1 467.5h1.2 M395.7 465.0V471.5 M394.5 467.3h1.2M395.7 468.9h1.2 M397.8 449.5V482.8 M396.6 461.2h1.2M397.8 469.5h1.2 M400.1 443.9V459.3 M398.9 449.3h1.2M400.1 453.1h1.2 M402.2 443.0V458.5 M401.0 448.4h1.2M402.2 452.3h1.2 M404.6 447.1V463.3 M403.4 452.8h1.2M404.6 456.8h1.2 M407.1 450.3V464.2 M405.9 455.2h1.2M407.1 458.6h1.2 M409.5 456.0V473.1 M408.3 462.0h1.2M409.5 466.3h1.2 M411.6 443.9V478.8 M410.4 456.1h1.2M411.6 464.8h1.2 M413.6 431.7V448.7 M412.4 437.6h1.2M413.6 441.9h1.2 M416.0 435.7V444.7 M414.8 438.8h1.2M416.0 441.1h1.2 M418.4 433.3V463.3 M417.2 443.8h1.2M418.4 451.3h1.2 M420.5 453.6V465.0 M419.3 457.6h1.2M420.5 460.4h1.2 M422.5 454.4V464.2 M421.3 457.8h1.2M422.5 460.3h1.2 M424.9 443.9V473.1 M423.7 454.1h1.2M424.9 461.4h1.2 M426.5 447.1V455.2 M425.3 449.9h1.2M426.5 452.0h1.2 M428.7 439.0V451.2 M427.5 443.3h1.2M428.7 446.3h1.2 M430.6 441.4V457.7 M429.4 447.1h1.2M430.6 451.2h1.2 M433.0 447.9V461.7 M431.8 452.7h1.2M433.0 456.2h1.2 M435.5 443.0V459.3 M434.3 448.7h1.2M435.5 452.8h1.2 M437.4 452.0V463.3 M436.2 456.0h1.2M437.4 458.8h1.2 M440.0 453.6V466.6 M438.8 458.2h1.2M440.0 461.4h1.2 M442.3 444.7V456.8 M441.1 448.9h1.2M442.3 452.0h1.2 M444.4 453.6V465.0 M443.2 457.6h1.2M444.4 460.4h1.2 M446.5 454.6V488.3 M445.3 466.4h1.2M446.5 474.8h1.2 M448.7 487.0V497.0 M447.5 490.5h1.2M448.7 493.0h1.2 M450.8 491.2V499.7 M449.6 494.2h1.2M450.8 496.3h1.2 M453.2 493.6V502.0 M452.0 496.5h1.2M453.2 498.6h1.2 M455.0 501.3V511.5 M453.8 504.9h1.2M455.0 507.4h1.2 M456.9 502.0V511.9 M455.7 505.5h1.2M456.9 507.9h1.2 M458.8 502.8V509.2 M457.6 505.0h1.2M458.8 506.6h1.2 M461.2 493.8V511.7 M460.0 500.1h1.2M461.2 504.5h1.2 M463.7 497.1V505.2 M462.5 499.9h1.2M463.7 502.0h1.2 M465.8 493.8V504.4 M464.6 497.5h1.2M465.8 500.2h1.2 M468.5 486.5V502.8 M467.3 492.2h1.2M468.5 496.3h1.2 M470.2 487.3V493.0 M469.0 489.3h1.2M470.2 490.7h1.2 M472.9 472.7V490.6 M471.7 479.0h1.2M472.9 483.4h1.2 M475.5 470.3V479.2 M474.3 473.4h1.2M475.5 475.6h1.2 M477.5 464.6V480.8 M476.3 470.3h1.2M477.5 474.3h1.2 M479.4 474.3V493.8 M478.2 481.1h1.2M479.4 486.0h1.2 M481.5 473.5V484.9 M480.3 477.5h1.2M481.5 480.3h1.2 M483.5 426.4V473.5 M482.3 442.9h1.2M483.5 454.7h1.2 M485.3 428.9V441.8 M484.1 433.4h1.2M485.3 436.6h1.2 M487.6 425.6V438.6 M486.4 430.2h1.2M487.6 433.4h1.2 M489.7 420.7V435.3 M488.5 425.8h1.2M489.7 429.5h1.2 M492.1 422.4V442.7 M490.9 429.5h1.2M492.1 434.6h1.2 M494.5 426.4V435.3 M493.3 429.5h1.2M494.5 431.7h1.2 M497.0 428.0V433.7 M495.8 430.0h1.2M497.0 431.4h1.2 M499.4 416.7V432.9 M498.2 422.4h1.2M499.4 426.4h1.2 M501.8 411.8V424.0 M500.6 416.1h1.2M501.8 419.1h1.2 M503.8 414.2V426.4 M502.6 418.5h1.2M503.8 421.5h1.2 M505.9 418.3V438.6 M504.7 425.4h1.2M505.9 430.5h1.2 M508.0 426.4V436.2 M506.8 429.8h1.2M508.0 432.3h1.2 M510.0 423.0V434.5 M508.8 427.0h1.2M510.0 429.9h1.2 M511.9 413.4V423.6 M510.7 417.0h1.2M511.9 419.5h1.2 M514.0 400.0V421.1 M512.8 407.4h1.2M514.0 412.7h1.2 M516.0 405.3V415.0 M514.8 408.7h1.2M516.0 411.1h1.2 M518.3 406.1V446.7 M517.1 420.3h1.2M518.3 430.5h1.2 M520.4 433.7V456.5 M519.2 441.7h1.2M520.4 447.4h1.2 M522.5 442.7V454.8 M521.3 446.9h1.2M522.5 450.0h1.2 M524.8 443.5V451.6 M523.6 446.3h1.2M524.8 448.4h1.2 M526.9 422.4V443.5 M525.7 429.8h1.2M526.9 435.1h1.2 M529.4 428.9V438.6 M528.2 432.3h1.2M529.4 434.7h1.2 M531.3 431.3V445.1 M530.1 436.1h1.2M531.3 439.6h1.2 M533.9 437.0V448.3 M532.7 441.0h1.2M533.9 443.8h1.2 M536.7 445.9V463.8 M535.5 452.2h1.2M536.7 456.6h1.2 M539.1 439.4V456.5 M537.9 445.4h1.2M539.1 449.7h1.2 M540.7 440.2V448.3 M539.5 443.0h1.2M540.7 445.1h1.2 M542.7 437.0V456.5 M541.5 443.8h1.2M542.7 448.7h1.2 M544.8 450.8V459.7 M543.6 453.9h1.2M544.8 456.1h1.2 M546.9 450.8V468.6 M545.7 457.0h1.2M546.9 461.5h1.2 M548.9 450.0V469.5 M547.7 456.8h1.2M548.9 461.7h1.2 M551.3 453.2V464.6 M550.1 457.2h1.2M551.3 460.0h1.2 M553.7 454.8V467.0 M552.5 459.1h1.2M553.7 462.1h1.2 M555.7 437.0V460.5 M554.5 445.2h1.2M555.7 451.1h1.2 M557.8 432.1V443.5 M556.6 436.1h1.2M557.8 438.9h1.2 M560.5 423.2V442.7 M559.3 430.0h1.2M560.5 434.9h1.2" stroke="#222" stroke-width="1.15" fill="none"/>
<path d="M12.60 640.21H14.79V644.50H12.60Z M14.79 637.72H16.98V644.50H14.79Z M16.98 635.24H19.17V644.50H16.98Z M19.17 632.75H21.36V644.50H19.17Z M21.36 632.00H23.55V644.50H21.36Z M23.55 632.33H25.74V644.50H23.55Z M25.74 632.65H27.93V644.50H25.74Z M27.93 632.83H30.12V644.50H27.93Z M30.12 632.54H32.31V644.50H30.12Z M32.31 631.94H34.50V644.50H32.31Z M34.50 631.04H36.69V644.50H34.50Z M36.69 630.48H38.88V644.50H36.69Z M38.88 631.52H41.07V644.50H38.88Z M41.07 633.83H43.26V644.50H41.07Z M43.26 637.45H45.45V644.50H43.26Z M45.45 638.75H47.64V644.50H45.45Z M47.64 641.41H49.83V644.50H47.64Z M49.83 644.50H52.02V645.23H49.83Z M52.02 644.50H54.21V648.15H52.02Z M54.21 644.50H56.40V651.00H54.21Z M56.40 644.50H58.59V653.71H56.40Z M58.59 644.50H60.78V656.42H58.59Z M60.78 644.50H62.97V659.21H60.78Z M62.97 644.50H65.16V662.04H62.97Z M65.16 644.50H67.35V664.87H65.16Z M67.35 644.50H69.54V666.02H67.35Z M69.54 644.50H71.73V662.10H69.54Z M71.73 644.50H73.92V659.54H71.73Z M73.92 644.50H76.11V657.09H73.92Z M76.11 644.50H78.30V654.94H76.11Z M78.30 644.50H80.49V654.08H78.30Z M80.49 644.50H82.68V653.22H80.49Z M82.68 644.50H84.87V652.37H82.68Z M84.87 644.50H87.06V652.62H84.87Z M87.06 644.50H89.25V653.14H87.06Z M89.25 644.50H91.44V653.42H89.25Z M91.44 644.50H93.63V651.79H91.44Z M93.63 644.50H95.82V650.17H93.63Z M95.82 644.50H98.01V648.55H95.82Z M98.01 644.50H100.20V646.97H98.01Z M100.20 644.50H102.39V646.24H100.20Z M102.39 644.50H104.58V645.50H102.39Z M104.58 644.50H106.77V649.40H104.58Z M106.77 644.50H108.96V651.41H106.77Z M108.96 644.50H111.15V651.95H108.96Z M111.15 644.50H113.34V650.96H111.15Z M113.34 644.50H115.53V649.97H113.34Z M117.72 641.39H119.91V644.50H117.72Z M119.91 635.29H122.10V644.50H119.91Z M122.10 633.43H124.29V644.50H122.10Z M124.29 632.31H126.48V644.50H124.29Z M126.48 631.11H128.67V644.50H126.48Z M128.67 629.89H130.86V644.50H128.67Z M130.86 629.88H133.05V644.50H130.86Z M133.05 631.44H135.24V644.50H133.05Z M135.24 633.17H137.43V644.50H135.24Z M137.43 637.60H139.62V644.50H137.43Z M139.62 641.91H141.81V644.50H139.62Z M141.81 644.05H144.00V644.50H141.81Z M144.00 644.50H146.19V645.03H144.00Z M146.19 644.50H148.38V646.01H146.19Z M148.38 644.50H150.57V646.99H148.38Z M150.57 644.50H152.76V649.97H150.57Z M152.76 644.50H154.95V652.98H152.76Z M154.95 644.50H157.14V654.86H154.95Z M157.14 644.50H159.33V654.06H157.14Z M159.33 644.50H161.52V653.26H159.33Z M161.52 644.50H163.71V653.01H161.52Z M163.71 644.50H165.90V653.22H163.71Z M165.90 644.50H168.09V653.43H165.90Z M168.09 644.50H170.28V653.86H168.09Z M170.28 644.50H172.47V655.00H170.28Z M172.47 644.50H174.66V654.41H172.47Z M174.66 644.50H176.85V653.82H174.66Z M176.85 644.50H179.04V653.24H176.85Z M179.04 644.50H181.23V652.43H179.04Z M181.23 644.50H183.42V651.32H181.23Z M183.42 644.50H185.61V650.21H183.42Z M185.61 644.50H187.80V649.11H185.61Z M187.80 644.50H189.99V647.88H187.80Z M189.99 644.50H192.18V646.44H189.99Z M192.18 644.50H194.37V645.00H192.18Z M194.37 642.80H196.56V644.50H194.37Z M196.56 638.83H198.75V644.50H196.56Z M198.75 638.41H200.94V644.50H198.75Z M200.94 640.21H203.13V644.50H200.94Z M203.13 640.50H205.32V644.50H203.13Z M205.32 639.62H207.51V644.50H205.32Z M207.51 641.04H209.70V644.50H207.51Z M209.70 643.29H211.89V644.50H209.70Z M211.89 644.50H214.08V646.11H211.89Z M214.08 644.50H216.27V647.33H214.08Z M216.27 644.50H218.46V648.20H216.27Z M218.46 644.50H220.65V646.50H218.46Z M220.65 644.50H222.84V644.81H220.65Z M222.84 643.39H225.03V644.50H222.84Z M227.22 642.92H229.41V644.50H227.22Z M229.41 638.65H231.60V644.50H229.41Z M231.60 636.47H233.79V644.50H231.60Z M233.79 635.24H235.98V644.50H233.79Z M235.98 634.61H238.17V644.50H235.98Z M238.17 635.31H240.36V644.50H238.17Z M240.36 635.41H242.55V644.50H240.36Z M242.55 634.11H244.74V644.50H242.55Z M244.74 633.60H246.93V644.50H244.74Z M246.93 633.60H249.12V644.50H246.93Z M249.12 634.21H251.31V644.50H249.12Z M251.31 635.30H253.50V644.50H251.31Z M253.50 636.60H255.69V644.50H253.50Z M255.69 638.06H257.88V644.50H255.69Z M257.88 638.26H260.07V644.50H257.88Z M260.07 637.17H262.26V644.50H260.07Z M262.26 636.87H264.45V644.50H262.26Z M264.45 637.42H266.64V644.50H264.45Z M266.64 637.98H268.83V644.50H266.64Z M268.83 639.79H271.02V644.50H268.83Z M271.02 641.93H273.21V644.50H271.02Z M273.21 643.30H275.40V644.50H273.21Z M275.40 644.00H277.59V644.50H275.40Z M277.59 644.00H279.78V644.50H277.59Z M279.78 643.74H281.97V644.50H279.78Z M281.97 643.01H284.16V644.50H281.97Z M284.16 642.01H286.35V644.50H284.16Z M286.35 640.38H288.54V644.50H286.35Z M288.54 638.75H290.73V644.50H288.54Z M290.73 637.09H292.92V644.50H290.73Z M292.92 635.42H295.11V644.50H292.92Z M295.11 633.75H297.30V644.50H295.11Z M297.30 633.40H299.49V644.50H297.30Z M299.49 633.95H301.68V644.50H299.49Z M301.68 634.40H303.87V644.50H301.68Z M303.87 634.40H306.06V644.50H303.87Z M306.06 634.40H308.25V644.50H306.06Z M308.25 634.40H310.44V644.50H308.25Z M310.44 636.54H312.63V644.50H310.44Z M312.63 638.99H314.82V644.50H312.63Z M314.82 641.03H317.01V644.50H314.82Z M317.01 641.64H319.20V644.50H317.01Z M319.20 642.60H321.39V644.50H319.20Z M321.39 643.67H323.58V644.50H321.39Z M325.77 644.50H327.96V645.24H325.77Z M327.96 644.50H330.15V645.79H327.96Z M330.15 644.50H332.34V645.16H330.15Z M334.53 642.88H336.72V644.50H334.53Z M336.72 642.06H338.91V644.50H336.72Z M338.91 643.15H341.10V644.50H338.91Z M341.10 644.50H343.29V646.49H341.10Z M343.29 644.50H345.48V650.83H343.29Z M345.48 644.50H347.67V653.76H345.48Z M347.67 644.50H349.86V655.37H347.67Z M349.86 644.50H352.05V656.97H349.86Z M352.05 644.50H354.24V658.63H352.05Z M354.24 644.50H356.43V660.30H354.24Z M356.43 644.50H358.62V661.83H356.43Z M358.62 644.50H360.81V662.18H358.62Z M360.81 644.50H363.00V662.46H360.81Z M363.00 644.50H365.19V661.64H363.00Z M365.19 644.50H367.38V660.83H365.19Z M367.38 644.50H369.57V659.03H367.38Z M369.57 644.50H371.76V655.42H369.57Z M371.76 644.50H373.95V652.08H371.76Z M373.95 644.50H376.14V649.33H373.95Z M376.14 644.50H378.33V646.58H376.14Z M378.33 644.18H380.52V644.50H378.33Z M380.52 641.99H382.71V644.50H380.52Z M382.71 640.60H384.90V644.50H382.71Z M384.90 641.90H387.09V644.50H384.90Z M387.09 643.09H389.28V644.50H387.09Z M389.28 644.19H391.47V644.50H389.28Z M391.47 644.50H393.66V645.66H391.47Z M393.66 644.50H395.85V647.46H393.66Z M395.85 644.50H398.04V647.73H395.85Z M398.04 644.50H400.23V646.32H398.04Z M400.23 644.50H402.42V645.50H400.23Z M402.42 644.50H404.61V645.50H402.42Z M404.61 644.50H406.80V645.50H404.61Z M406.80 644.50H408.99V645.45H406.80Z M408.99 644.09H411.18V644.50H408.99Z M411.18 642.40H413.37V644.50H411.18Z M413.37 641.15H415.56V644.50H413.37Z M415.56 640.71H417.75V644.50H415.56Z M417.75 641.94H419.94V644.50H417.75Z M419.94 643.20H422.13V644.50H419.94Z M422.13 643.40H424.32V644.50H422.13Z M424.32 642.91H426.51V644.50H424.32Z M426.51 642.42H428.70V644.50H426.51Z M428.70 642.56H430.89V644.50H428.70Z M430.89 643.23H433.08V644.50H430.89Z M433.08 643.90H435.27V644.50H433.08Z M435.27 644.00H437.46V644.50H435.27Z M437.46 644.00H439.65V644.50H437.46Z M439.65 644.00H441.84V644.50H439.65Z M441.84 644.00H444.03V644.50H441.84Z M446.22 644.50H448.41V647.54H446.22Z M448.41 644.50H450.60V649.62H448.41Z M450.60 644.50H452.79V651.29H450.60Z M452.79 644.50H454.98V652.91H452.79Z M454.98 644.50H457.17V653.26H454.98Z M457.17 644.50H459.36V653.55H457.17Z M459.36 644.50H461.55V651.95H459.36Z M461.55 644.50H463.74V650.34H461.55Z M463.74 644.50H465.93V648.64H463.74Z M465.93 644.50H468.12V646.71H465.93Z M470.31 642.78H472.50V644.50H470.31Z M472.50 640.53H474.69V644.50H472.50Z M474.69 639.22H476.88V644.50H474.69Z M476.88 638.70H479.07V644.50H476.88Z M479.07 638.18H481.26V644.50H479.07Z M481.26 634.88H483.45V644.50H481.26Z M483.45 632.09H485.64V644.50H483.45Z M485.64 630.40H487.83V644.50H485.64Z M487.83 629.61H490.02V644.50H487.83Z M490.02 629.84H492.21V644.50H490.02Z M492.21 630.79H494.40V644.50H492.21Z M494.40 632.00H496.59V644.50H494.40Z M496.59 633.21H498.78V644.50H496.59Z M498.78 634.52H500.97V644.50H498.78Z M500.97 635.90H503.16V644.50H500.97Z M503.16 637.27H505.35V644.50H503.16Z M505.35 638.94H507.54V644.50H505.35Z M507.54 640.61H509.73V644.50H507.54Z M509.73 641.70H511.92V644.50H509.73Z M511.92 641.33H514.11V644.50H511.92Z M514.11 641.53H516.30V644.50H514.11Z M516.30 641.78H518.49V644.50H516.30Z M518.49 644.50H520.68V647.50H518.49Z M520.68 644.50H522.87V649.60H520.68Z M522.87 644.50H525.06V649.04H522.87Z M525.06 644.50H527.25V648.49H525.06Z M527.25 644.50H529.44V648.84H527.25Z M529.44 644.50H531.63V649.36H529.44Z M531.63 644.50H533.82V649.88H531.63Z M533.82 644.50H536.01V650.40H533.82Z M536.01 644.50H538.20V650.53H536.01Z M538.20 644.50H540.39V650.13H538.20Z M540.39 644.50H542.58V649.72H540.39Z M542.58 644.50H544.77V649.32H542.58Z M544.77 644.50H546.96V650.35H544.77Z M546.96 644.50H549.15V651.09H546.96Z M549.15 644.50H551.34V650.21H549.15Z M551.34 644.50H553.53V649.32H551.34Z M553.53 644.50H555.72V648.43H553.53Z M555.72 644.50H557.91V646.33H555.72Z M557.91 644.19H560.10V644.50H557.91Z M560.10 643.53H562.29V644.50H560.10Z" fill="#52a3d3" stroke="#2a6c9c" stroke-width="0.7"/>
<path d="M13.0 644.0 C15.0 642.8 14.0 646.2 18.9 640.3 C23.8 634.4 21.9 635.4 27.8 626.2 C33.7 617.0 30.3 620.0 36.7 612.8 C43.1 605.6 42.2 607.3 47.1 604.7 C52.0 602.1 47.5 601.9 51.5 605.1 C55.5 608.3 53.5 605.3 59.0 614.3 C64.5 623.3 62.0 621.7 67.9 632.1 C73.8 642.5 70.4 637.8 76.8 645.5 C83.2 653.2 80.3 649.9 87.2 655.1 C94.1 660.3 91.6 658.4 97.5 661.1 C103.4 663.8 99.5 660.1 105.0 663.3 C110.5 666.5 109.0 669.7 113.9 670.7 C118.8 671.7 114.9 670.9 119.8 666.2 C124.7 661.5 122.8 663.3 128.7 656.6 C134.6 649.9 132.1 650.6 137.6 646.2 C143.1 641.8 139.6 642.8 145.1 643.3 C150.6 643.8 147.6 643.0 154.0 647.7 C160.4 652.4 157.4 650.4 164.3 657.3 C171.2 664.2 167.8 662.1 174.7 668.5 C181.6 674.9 178.7 672.7 185.1 676.6 C191.5 680.5 189.0 680.3 194.0 680.3 C199.0 680.3 194.5 679.3 200.0 676.6 C205.5 673.9 204.0 672.7 210.4 672.2 C216.8 671.7 213.4 674.5 219.3 675.2 C225.2 675.9 221.8 678.4 228.2 674.4 C234.6 670.4 231.7 670.7 238.6 663.3 C245.5 655.9 242.1 658.9 249.0 652.2 C255.9 645.5 252.4 648.6 259.3 643.3 C266.2 638.0 262.8 639.0 269.7 636.3 C276.6 633.6 273.7 637.0 280.1 635.1 C286.5 633.2 284.0 633.3 289.0 630.6 C294.0 627.9 290.5 631.3 295.0 626.9 C299.5 622.5 297.5 622.7 302.4 617.3 C307.3 611.9 304.8 614.1 309.8 610.6 C314.8 607.1 312.3 608.4 317.3 606.9 C322.3 605.4 319.8 606.4 324.7 606.2 C329.6 606.0 327.2 606.5 332.1 606.2 C337.0 605.9 335.1 604.2 339.5 605.4 C343.9 606.6 341.4 605.9 345.4 609.9 C349.4 613.9 347.4 610.9 351.4 617.3 C355.4 623.7 352.9 620.3 357.3 629.2 C361.7 638.1 360.2 636.8 364.7 644.0 C369.2 651.2 366.7 647.2 370.7 650.7 C374.7 654.2 372.2 654.1 376.6 654.4 C381.0 654.7 379.5 652.7 384.0 651.7 C388.5 650.7 384.5 650.5 390.0 651.4 C395.5 652.3 393.0 653.7 400.4 654.4 C407.8 655.1 404.4 654.3 412.3 653.6 C420.2 652.9 416.7 653.5 424.1 652.2 C431.5 650.9 427.6 650.6 434.5 649.6 C441.4 648.6 439.0 647.4 444.9 649.2 C450.8 651.0 447.4 650.9 452.3 655.1 C457.2 659.3 454.7 658.2 459.7 661.8 C464.7 665.4 462.7 665.0 467.2 666.0 C471.7 667.0 468.7 667.7 473.1 664.8 C477.5 661.9 476.5 661.3 480.5 657.3 C484.5 653.3 481.5 657.8 485.0 652.9 C488.5 648.0 486.4 649.4 490.9 642.5 C495.4 635.6 492.9 638.0 498.4 632.1 C503.9 626.2 501.4 627.9 507.3 624.7 C513.2 621.5 510.8 622.0 516.2 622.5 C521.6 623.0 518.2 623.2 523.6 626.2 C529.0 629.2 526.6 627.4 532.5 631.4 C538.4 635.4 535.5 633.7 541.4 638.1 C547.3 642.5 544.6 641.7 550.3 644.7 C556.0 647.7 554.9 646.5 558.4 647.0 C561.9 647.5 559.9 646.5 560.7 646.2" fill="none" stroke="#ff2020" stroke-width="1.15"/>
<path d="M13.0 641.0 C13.9 640.2 15.6 640.3 17.4 636.9 C19.2 633.5 19.7 628.4 21.9 624.0 C24.1 619.6 26.4 617.6 28.5 615.1 C30.6 612.6 30.5 614.4 32.3 611.4 C34.1 608.4 35.5 603.5 37.4 600.2 C39.3 596.9 40.3 595.8 42.0 595.0 C43.7 594.2 44.7 594.7 46.0 596.0 C47.3 597.3 47.8 599.7 48.6 601.7 C49.4 603.7 48.8 604.1 50.0 606.2 C51.2 608.3 52.7 608.7 54.5 612.1 C56.3 615.5 57.5 618.9 59.0 623.2 C60.5 627.5 60.1 627.4 61.9 633.6 C63.7 639.8 65.8 651.3 67.9 654.4 C70.0 657.5 70.2 648.5 72.3 649.2 C74.4 649.9 76.1 656.0 78.2 658.1 C80.3 660.2 81.1 659.5 82.7 659.6 C84.3 659.7 84.9 657.6 86.4 658.8 C87.9 660.0 88.2 664.0 90.1 665.5 C92.0 667.0 93.7 666.6 96.1 666.2 C98.5 665.8 100.2 663.1 102.0 663.3 C103.8 663.5 103.8 665.1 105.0 667.0 C106.2 668.9 106.4 671.1 108.0 672.9 C109.6 674.7 111.6 676.8 113.2 675.9 C114.8 675.0 114.8 671.2 116.1 668.5 C117.4 665.8 117.9 666.4 119.8 662.5 C121.7 658.6 123.6 654.1 125.8 649.2 C128.0 644.3 129.1 640.9 131.0 638.1 C132.9 635.3 133.6 635.0 135.4 635.1 C137.2 635.2 138.3 636.9 139.9 638.8 C141.5 640.7 141.8 642.8 143.6 644.7 C145.4 646.6 147.0 646.3 148.8 648.4 C150.6 650.5 151.0 652.1 152.5 655.1 C154.0 658.1 154.3 661.4 156.2 663.3 C158.1 665.2 160.2 663.9 162.1 664.8 C164.0 665.7 163.9 665.0 165.8 667.7 C167.7 670.4 169.4 675.6 171.8 678.1 C174.2 680.6 174.9 679.1 177.7 680.3 C180.5 681.5 182.9 683.7 185.9 684.0 C188.9 684.3 190.0 684.5 192.5 681.8 C195.0 679.1 195.8 673.4 198.5 670.7 C201.2 668.0 203.7 668.5 205.9 668.5 C208.1 668.5 208.1 669.1 209.6 670.7 C211.1 672.3 211.8 675.0 213.4 676.6 C215.0 678.2 215.7 679.3 217.8 678.9 C219.9 678.5 221.8 675.3 223.7 674.4 C225.6 673.5 225.6 676.9 227.4 674.4 C229.2 671.9 230.4 665.7 232.6 661.8 C234.8 657.9 236.2 658.1 238.6 655.1 C241.0 652.1 242.1 649.5 244.5 647.0 C246.9 644.5 248.3 643.8 250.4 642.5 C252.5 641.2 253.1 640.9 254.9 640.3 C256.7 639.7 257.7 640.8 259.3 639.5 C260.9 638.2 261.2 635.1 263.1 633.6 C265.0 632.1 266.8 631.8 269.0 632.1 C271.2 632.4 271.4 634.6 274.2 635.1 C277.0 635.6 279.8 636.5 283.1 634.4 C286.4 632.3 288.1 628.1 290.5 624.7 C292.9 621.3 293.5 619.8 295.0 617.3 C296.5 614.8 296.7 613.6 298.0 612.1 C299.3 610.6 299.5 612.0 301.7 609.9 C303.9 607.8 306.6 602.7 309.1 601.7 C311.6 600.7 312.7 604.5 314.3 604.7 C315.9 604.9 315.7 602.6 317.3 602.7 C318.9 602.8 319.9 604.2 322.4 605.4 C324.9 606.6 327.5 608.5 329.9 608.7 C332.3 608.9 332.7 607.4 334.3 606.2 C335.9 605.0 336.7 603.0 338.0 602.7 C339.3 602.4 339.5 601.8 341.0 604.7 C342.5 607.6 343.6 613.0 345.4 617.3 C347.2 621.6 348.1 622.2 349.9 626.2 C351.7 630.2 352.5 632.7 354.3 637.3 C356.1 641.9 357.0 645.2 358.8 649.2 C360.6 653.2 361.4 654.8 363.2 657.3 C365.0 659.8 365.9 661.3 367.7 661.8 C369.5 662.3 370.1 661.8 372.2 660.0 C374.3 658.2 375.7 655.4 378.1 652.9 C380.5 650.4 381.6 648.0 384.0 647.7 C386.4 647.4 387.3 649.5 390.0 651.4 C392.7 653.3 395.0 656.7 397.4 657.3 C399.8 657.9 400.1 655.0 401.9 654.4 C403.7 653.8 404.7 654.1 406.3 654.1 C407.9 654.1 407.9 655.4 410.0 654.4 C412.1 653.4 414.0 649.9 416.7 649.2 C419.4 648.5 420.6 651.3 423.4 651.1 C426.2 650.9 428.6 648.5 430.8 648.1 C433.0 647.7 431.8 649.1 434.5 649.2 C437.2 649.3 440.6 646.3 444.2 648.7 C447.8 651.1 449.5 657.0 452.3 661.1 C455.1 665.2 455.8 667.6 458.2 669.2 C460.6 670.8 461.8 669.9 464.2 669.2 C466.6 668.5 467.7 667.9 470.1 665.5 C472.5 663.1 473.7 660.3 476.1 657.3 C478.5 654.3 480.2 654.0 482.0 650.7 C483.8 647.4 483.4 645.2 485.0 641.0 C486.6 636.8 488.5 632.9 490.0 629.9 C491.5 626.9 491.0 627.4 492.4 626.2 C493.8 625.0 494.8 625.3 496.9 624.0 C499.0 622.7 500.7 620.2 502.8 619.5 C504.9 618.8 505.7 619.9 507.3 620.3 C508.9 620.7 509.2 621.9 511.0 621.7 C512.8 621.5 514.4 618.2 516.2 619.5 C518.0 620.8 518.4 625.7 519.9 628.4 C521.4 631.1 521.7 631.4 523.6 632.9 C525.5 634.4 527.0 634.0 529.5 635.8 C532.0 637.6 533.2 639.7 536.2 641.8 C539.2 643.9 541.8 644.6 544.3 646.2 C546.8 647.8 547.0 648.7 548.8 649.9 C550.6 651.1 550.8 652.9 553.2 652.2 C555.6 651.5 559.2 647.4 560.7 646.2" fill="none" stroke="#000" stroke-width="1.5" stroke-linejoin="round"/>
<path d="M13.0 746.2 C13.7 742.5 14.6 736.3 16.7 727.7 C18.8 719.1 21.2 707.8 23.4 703.2 C25.6 698.6 26.0 704.3 27.8 704.7 C29.6 705.1 30.4 706.3 32.3 705.4 C34.2 704.5 35.6 700.8 37.4 700.2 C39.2 699.6 39.0 698.8 41.2 702.5 C43.4 706.2 45.9 710.9 48.6 718.8 C51.3 726.7 52.1 733.8 54.5 741.8 C56.9 749.8 58.3 752.4 60.4 758.8 C62.5 765.2 63.4 770.7 64.9 773.7 C66.4 776.7 66.7 775.5 67.9 773.7 C69.1 771.9 69.3 770.4 70.8 764.8 C72.3 759.2 73.5 748.0 75.3 745.5 C77.1 743.0 78.1 750.1 79.7 752.2 C81.3 754.3 81.9 756.4 83.4 755.9 C84.9 755.4 85.0 749.9 87.2 749.9 C89.4 749.9 91.8 756.5 94.6 755.9 C97.4 755.3 99.1 748.3 101.2 747.0 C103.3 745.7 102.8 745.4 105.0 749.2 C107.2 753.0 110.0 765.3 112.4 766.2 C114.8 767.1 114.5 764.7 116.9 753.6 C119.3 742.5 121.5 721.1 124.3 710.6 C127.1 700.1 128.2 700.8 131.0 701.0 C133.8 701.2 135.3 703.7 138.4 711.4 C141.5 719.1 143.1 727.0 146.5 739.5 C149.9 752.0 151.5 769.2 155.4 773.7 C159.3 778.2 162.2 761.5 165.8 761.8 C169.4 762.1 169.6 774.5 173.2 775.2 C176.8 775.9 180.2 767.3 183.6 765.5 C187.0 763.7 187.9 767.8 190.3 766.2 C192.7 764.6 193.0 764.1 195.5 757.3 C198.0 750.5 200.2 734.5 202.9 732.1 C205.6 729.7 206.8 739.9 208.9 745.5 C211.0 751.1 211.6 755.3 213.4 760.3 C215.2 765.3 215.1 771.0 217.8 770.7 C220.5 770.4 224.3 761.8 226.7 758.8 C229.1 755.8 228.2 760.0 229.7 755.9 C231.2 751.8 232.5 744.9 234.1 738.1 C235.7 731.3 235.7 726.5 237.8 721.7 C239.9 716.9 242.1 717.9 244.5 714.3 C246.9 710.7 247.3 704.8 249.7 703.9 C252.1 703.0 253.9 708.0 256.4 709.9 C258.9 711.8 260.1 713.0 262.3 713.6 C264.5 714.2 264.4 706.4 267.5 712.8 C270.6 719.2 274.8 740.6 277.9 745.5 C281.0 750.4 280.9 743.2 283.1 737.3 C285.3 731.4 286.6 723.2 289.0 715.8 C291.4 708.4 292.5 702.3 295.0 700.2 C297.5 698.1 298.7 705.4 301.7 705.4 C304.7 705.4 307.1 699.9 309.8 700.2 C312.5 700.5 312.6 704.4 315.0 706.9 C317.4 709.4 318.6 711.0 321.7 712.8 C324.8 714.6 327.0 717.4 330.6 715.8 C334.2 714.2 336.8 701.4 339.5 704.7 C342.2 708.0 341.9 720.4 344.0 732.1 C346.1 743.8 347.2 754.2 349.9 763.3 C352.6 772.4 354.3 774.3 357.3 777.4 C360.3 780.5 361.7 780.8 364.7 778.9 C367.7 777.0 369.2 774.4 372.2 767.7 C375.2 761.0 376.9 755.7 379.6 745.5 C382.3 735.3 383.9 721.8 385.5 716.5 C387.1 711.2 385.8 711.5 387.7 718.8 C389.6 726.1 393.1 743.7 395.0 752.9 C396.9 762.1 395.3 766.7 397.4 764.8 C399.5 762.9 402.5 747.0 405.6 743.3 C408.7 739.6 410.2 749.5 413.0 746.2 C415.8 742.9 417.2 728.1 419.7 726.9 C422.2 725.7 422.9 740.0 425.6 740.3 C428.3 740.6 430.3 728.8 433.0 728.4 C435.7 728.0 436.5 735.0 439.0 738.1 C441.5 741.2 442.8 736.6 445.6 744.0 C448.4 751.4 450.3 768.7 453.1 775.2 C455.9 781.7 457.5 776.9 459.7 776.6 C461.9 776.3 461.7 777.0 464.2 773.7 C466.7 770.4 469.3 769.2 472.3 760.3 C475.3 751.4 475.9 740.5 479.0 729.2 C482.1 717.9 486.0 709.2 487.9 703.9 C489.8 698.6 487.2 702.6 488.7 702.5 C490.2 702.4 492.3 703.1 495.4 703.2 C498.5 703.3 501.0 701.9 504.3 703.2 C507.6 704.5 509.0 707.7 511.7 709.9 C514.4 712.1 515.5 707.8 517.6 714.3 C519.7 720.8 520.2 732.4 522.1 742.5 C524.0 752.6 525.1 763.2 527.3 764.8 C529.5 766.4 530.5 751.3 533.2 750.7 C535.9 750.1 537.2 758.1 540.6 761.8 C544.0 765.5 547.2 769.8 550.3 769.2 C553.4 768.6 554.1 765.3 556.2 758.8 C558.3 752.3 559.8 741.0 560.7 736.6" fill="none" stroke="#ff2020" stroke-width="1.15" stroke-linejoin="round"/>
<polyline points="13.0,726.2 15.2,722.5 17.4,712.8 19.6,709.1 21.9,700.7 24.8,702.2 28.5,707.2 32.3,704.7 36.7,699.5 38.9,699.8 43.4,713.6 45.6,715.8 48.9,719.5 52.3,742.5 57.5,755.1 61.2,775.2 63.4,773.7 67.1,774.4 69.3,770.7 72.3,747.0 74.5,740.3 79.0,758.8 82.7,754.4 86.4,747.7 90.1,755.1 94.6,757.3 96.1,749.2 100.5,746.2 103.5,747.7 105.0,755.9 110.2,770.7 113.9,761.8 117.6,738.1 122.1,709.1 127.3,702.5 131.7,700.2 136.2,707.6 141.4,730.6 145.1,741.0 150.3,766.2 155.4,776.6 162.1,760.3 165.8,763.3 169.5,772.9 172.5,777.4 175.5,770.7 181.4,762.5 185.1,767.0 188.1,767.7 192.5,758.8 195.5,756.6 198.8,726.2 203.0,736.6 205.9,745.2 208.2,742.5 211.9,763.3 215.6,772.2 219.3,765.5 223.7,758.1 226.7,760.3 229.7,754.4 232.6,733.6 236.4,715.1 240.8,721.0 244.5,710.6 247.5,701.0 251.9,709.1 254.9,707.6 258.6,716.5 260.8,715.8 264.5,709.9 269.0,724.7 275.7,749.2 280.9,736.6 282.3,735.8 287.5,711.4 292.7,700.2 296.4,700.2 298.0,701.7 302.4,707.6 306.1,703.9 309.1,698.7 312.1,703.2 315.0,709.9 317.3,707.6 321.0,712.1 326.2,714.0 330.6,717.0 335.1,703.2 337.3,702.5 339.5,707.6 342.5,735.1 345.4,760.3 349.2,772.2 352.1,774.4 355.1,778.1 358.8,778.1 362.5,779.3 366.2,778.1 370.7,766.2 376.6,745.5 383.3,710.6 390.0,745.5 396.7,767.7 402.6,742.5 404.8,741.3 409.3,751.4 412.3,748.4 416.0,723.2 418.9,726.2 422.9,743.3 425.6,739.5 428.9,727.4 433.0,729.2 436.0,738.8 439.0,740.3 444.2,744.0 450.8,778.9 453.8,775.5 459.0,778.1 464.2,769.2 470.9,758.8 477.5,724.7 481.2,720.3 485.0,707.6 488.0,700.2 491.7,701.3 496.9,704.7 503.5,701.3 511.0,711.4 516.2,712.1 522.8,773.7 529.5,747.7 536.2,764.0 542.1,758.8 547.3,771.4 550.3,767.0 554.7,757.3 560.7,720.3" fill="none" stroke="#000" stroke-width="1.5" stroke-linejoin="round"/>
<line x1="332.6" y1="423" x2="575.7" y2="392.5" stroke="#000" stroke-width="1.9" stroke-dasharray="3.3,1.7"/>
<line x1="343.3" y1="486.7" x2="580" y2="458.6" stroke="#333" stroke-width="1.2" stroke-dasharray="3.6,2.2"/>
<text x="443.9" y="402.8" font-size="9.8" font-weight="bold" textLength="10.8" lengthAdjust="spacingAndGlyphs">NL</text>
<text x="374.2" y="495.6" font-size="10.3" font-weight="bold" text-anchor="middle">S</text>
<text x="459.5" y="529.8" font-size="9.5" font-weight="bold" text-anchor="middle">H</text>
<text x="525.35" y="479" font-size="10.8" font-weight="bold" text-anchor="middle" font-family="Liberation Serif, serif">S</text>
<polygon points="321.1,320.6 364.6,320.6 364.6,337.20000000000005 325.3,337.20000000000005 314.1,342.6 321.1,333.0" fill="#b4b4b4"/>
<polygon points="319.5,319 363,319 363,335.6 323.7,335.6 312.5,341 319.5,331.4" fill="#fff" stroke="#8c8c8c" stroke-width="0.9" stroke-linejoin="miter"/>
<text x="321" y="331" font-size="8.5" font-weight="bold" fill="#e01010" textLength="33" lengthAdjust="spacingAndGlyphs">300 dma</text>
<text x="418" y="324" font-size="8" font-weight="bold" text-anchor="middle">Rambus</text>
<text x="417.5" y="335.5" font-size="8" font-weight="bold" text-anchor="middle" textLength="57" lengthAdjust="spacingAndGlyphs">LINEAR SCALE</text>
<polygon points="209.0,402.0 252.29999999999998,402.0 252.29999999999998,418.6 213.4,418.6 200.7,426.20000000000005 209.0,415.1" fill="#b4b4b4"/>
<polygon points="207.4,400.4 250.7,400.4 250.7,417 211.8,417 199.1,424.6 207.4,413.5" fill="#fff" stroke="#8c8c8c" stroke-width="0.9" stroke-linejoin="miter"/>
<text x="209.7" y="413" font-size="8.5" font-weight="bold" fill="#1010e8" textLength="33.2" lengthAdjust="spacingAndGlyphs">150 dma</text>
<polygon points="316.40000000000003,517.2 351.40000000000003,517.2 351.40000000000003,533.4 311.8,533.4 311.8,521.9 305.8,508.5" fill="#b4b4b4"/>
<polygon points="314.8,515.6 349.8,515.6 349.8,531.8 310.2,531.8 310.2,520.3 304.2,506.9" fill="#fff" stroke="#8c8c8c" stroke-width="0.9" stroke-linejoin="miter"/>
<text x="312.5" y="528" font-size="8.5" font-weight="bold" fill="#108010" textLength="28.7" lengthAdjust="spacingAndGlyphs">50 dma</text>
<polygon points="246.79999999999998,447.0 328.3,447.0 341.8,423.90000000000003 333.0,457.40000000000003 354.8,483.70000000000005 327.90000000000003,462.1 246.79999999999998,462.1" fill="#b4b4b4"/>
<polygon points="245.2,445.4 326.7,445.4 340.2,422.3 331.4,455.8 353.2,482.1 326.3,460.5 245.2,460.5" fill="#fff" stroke="#8c8c8c" stroke-width="0.9" stroke-linejoin="miter"/>
<text x="247.7" y="456.6" font-size="7.5" textLength="72.5" lengthAdjust="spacing" fill="#111">NL SYMMETRY RAIL</text>
<polygon points="506.90000000000003,496.40000000000003 558.2,496.40000000000003 556.8000000000001,463.0 563.6,496.40000000000003 614.1,496.40000000000003 614.1,521.7 506.90000000000003,521.7" fill="#b4b4b4"/>
<polygon points="505.3,494.8 556.6,494.8 555.2,461.4 562,494.8 612.5,494.8 612.5,520.1 505.3,520.1" fill="#fff" stroke="#8c8c8c" stroke-width="0.9" stroke-linejoin="miter"/>
<text x="508" y="506" font-size="7.4" textLength="95.3" lengthAdjust="spacing" fill="#111">A LITTLE MORE WORK ON</text>
<text x="508" y="516.3" font-size="7.4" textLength="82" lengthAdjust="spacing" fill="#111">THE RIGHT SHOULDER</text>
<polygon points="471.8,278.3 532.4,278.3 532.4,295.1 471.8,295.1" fill="#b4b4b4"/>
<polygon points="470.2,276.7 530.8,276.7 530.8,293.5 470.2,293.5" fill="#fff" stroke="#8c8c8c" stroke-width="0.9" stroke-linejoin="miter"/>
<text x="472.6" y="288.7" font-size="8" font-weight="bold" textLength="49" lengthAdjust="spacingAndGlyphs">H&amp;S PO 1455</text>
<line x1="531.6" y1="282.9" x2="588" y2="282.9" stroke="#000" stroke-width="1.5" stroke-dasharray="2.5,1.8"/>
<polygon points="537.5,270 542.5,270 542.5,276 545.5,276 540,281.5 534.5,276 537.5,276" fill="#000"/>
<text x="12" y="11.5" font-size="11.5" font-weight="bold" textLength="33" lengthAdjust="spacingAndGlyphs">$GOLD</text>
<text x="47.5" y="10.9" font-size="9.3" textLength="84.5" lengthAdjust="spacingAndGlyphs">Gold - Spot Price (EOD)</text>
<text x="136" y="10.9" font-size="8" textLength="16" lengthAdjust="spacingAndGlyphs">CME</text>
<text x="12" y="20.4" font-size="8" textLength="41.5" lengthAdjust="spacing" fill="#111">8-Aug-2014</text>
<text x="275.9" y="19.8" font-size="9" font-weight="bold" textLength="21.1" lengthAdjust="spacingAndGlyphs">Open</text>
<text x="300.6" y="19.8" font-size="8" font-weight="normal" textLength="27.3" lengthAdjust="spacingAndGlyphs">1314.50</text>
<text x="332.9" y="19.8" font-size="9" font-weight="bold" textLength="18.1" lengthAdjust="spacingAndGlyphs">High</text>
<text x="354" y="19.8" font-size="8" font-weight="normal" textLength="28.2" lengthAdjust="spacingAndGlyphs">1324.30</text>
<text x="386.6" y="19.8" font-size="9" font-weight="bold" textLength="17.9" lengthAdjust="spacingAndGlyphs">Low</text>
<text x="408" y="19.8" font-size="8" font-weight="normal" textLength="27.6" lengthAdjust="spacingAndGlyphs">1305.70</text>
<text x="441" y="19.8" font-size="9" font-weight="bold" textLength="23.3" lengthAdjust="spacingAndGlyphs">Close</text>
<text x="467.8" y="19.8" font-size="8" font-weight="normal" textLength="27.8" lengthAdjust="spacingAndGlyphs">1310.60</text>
<text x="500.8" y="19.8" font-size="9" font-weight="bold" textLength="31.2" lengthAdjust="spacingAndGlyphs">Volume</text>
<text x="535.5" y="19.8" font-size="8" font-weight="normal" textLength="26.0" lengthAdjust="spacingAndGlyphs">143.4K</text>
<text x="565.7" y="19.8" font-size="9" font-weight="bold" textLength="14.9" lengthAdjust="spacingAndGlyphs">Chg</text>
<text x="584" y="19.8" font-size="8" font-weight="normal" textLength="48.7" lengthAdjust="spacingAndGlyphs">-3.90 (-0.30%)</text>
<polygon points="636,16 641.4,16 638.7,18.8" fill="#c00000"/>
<circle cx="577.5" cy="7.6" r="2.6" fill="none" stroke="#444" stroke-width="0.9"/><circle cx="577.5" cy="7.6" r="1" fill="#444"/>
<text x="581.5" y="10.8" font-size="9" fill="#444" textLength="59" lengthAdjust="spacingAndGlyphs">StockCharts.com</text>
<rect x="13" y="23" width="72" height="9" fill="#fff"/>
<path d="M14 30.5 L16.6 25.2 L18.3 28.2 L20.2 26.6 L21 30.5 Z" fill="#888" stroke="#000" stroke-width="0.9" stroke-linejoin="round"/>
<text x="23.7" y="30.3" font-size="7.6" textLength="59" lengthAdjust="spacing">RSI(14) 53.62</text>
<rect x="13" y="302" width="107" height="9" fill="#fff"/><rect x="13" y="310" width="66" height="25" fill="#fff"/>
<path d="M15.5 303.5 V310 M14 305 L15.5 303.5 L17 305 M19.5 303.5 V310 M18 308.5 L19.5 310 L21 308.5" stroke="#000" stroke-width="0.9" fill="none"/>
<text x="24" y="309" font-size="7.8" textLength="95" lengthAdjust="spacing">$GOLD (Daily) 1310.60</text>
<line x1="14.2" x2="21" y1="314.6" y2="314.6" stroke="#2a8a2a" stroke-width="1" stroke-dasharray="1,1"/>
<text x="21.9" y="317.6" font-size="8" fill="#2a8a2a" textLength="51.5" lengthAdjust="spacingAndGlyphs">MA(50) 1297.08</text>
<line x1="14.2" x2="21" y1="322.6" y2="322.6" stroke="#2a2a9a" stroke-width="1" stroke-dasharray="1,1"/>
<text x="21.9" y="325.6" font-size="8" fill="#2a2a9a" textLength="55.5" lengthAdjust="spacingAndGlyphs">MA(150) 1295.71</text>
<line x1="14.2" x2="21" y1="330.6" y2="330.6" stroke="#e02038" stroke-width="1" stroke-dasharray="1,1"/>
<text x="21.9" y="333.6" font-size="8" fill="#e02038" textLength="55.6" lengthAdjust="spacingAndGlyphs">MA(300) 1300.53</text>
<rect x="13" y="593" width="172" height="8" fill="#fff"/>
<line x1="14.5" x2="20.7" y1="596.8" y2="596.8" stroke="#000" stroke-width="1.5"/>
<text x="23.9" y="599.8" font-size="7.8" textLength="93.8" lengthAdjust="spacing">MACD(12,26,9) -0.687,</text>
<text x="117" y="599.5" font-size="7.8" fill="#f01010" textLength="37.5" lengthAdjust="spacing">, -1.310,</text>
<text x="157.5" y="599.5" font-size="7.8" fill="#3a8fc0" textLength="24" lengthAdjust="spacingAndGlyphs">0.622</text>
<rect x="13" y="690" width="172" height="9" fill="#fff" fill-opacity="0"/>
<line x1="14.5" x2="20.7" y1="694.9" y2="694.9" stroke="#000" stroke-width="1.5"/>
<text x="23.4" y="697.9" font-size="7.8" textLength="133.5" lengthAdjust="spacing">Slow STO %K(14) %D(3) 71.57,</text>
<text x="159" y="697.9" font-size="8" fill="#e01010" textLength="23" lengthAdjust="spacingAndGlyphs">52.87</text>
</svg></body></html>
